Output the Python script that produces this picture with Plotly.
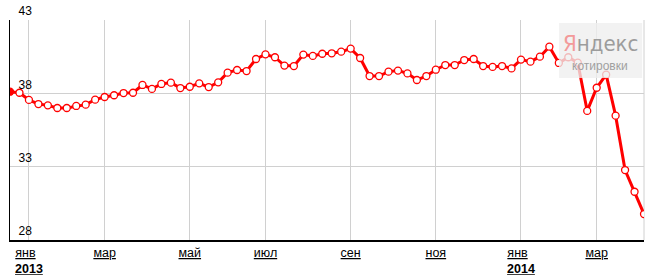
import pandas as pd
import plotly.graph_objects as go

# Weekly quotes (Mondays), Dec 2012 - Apr 2014
start_date = "2012-12-24"
values = [38.11, 38.04, 37.55, 37.27, 37.18, 37.00, 37.00, 37.14, 37.23, 37.57,
          37.75, 37.87, 38.02, 38.04, 38.57, 38.30, 38.64, 38.73, 38.36, 38.45,
          38.68, 38.43, 38.75, 39.41, 39.59, 39.52, 40.34, 40.66, 40.46, 39.89,
          39.86, 40.64, 40.55, 40.70, 40.73, 40.84, 41.05, 40.41, 39.18, 39.18,
          39.48, 39.55, 39.36, 38.91, 39.18, 39.61, 39.93, 39.93, 40.27, 40.34,
          39.86, 39.80, 39.86, 39.70, 40.30, 40.16, 40.50, 41.18, 40.07, 40.46,
          40.09, 36.80, 38.38, 39.27, 36.48, 32.77, 31.29, 29.77]
dates = pd.date_range(start_date, periods=len(values), freq="7D")

tick_dates = ["2013-01-07", "2013-03-04", "2013-05-06", "2013-07-01",
              "2013-09-02", "2013-11-04", "2014-01-06", "2014-03-03"]
tick_months = ["янв", "мар", "май", "июл", "сен", "ноя", "янв", "мар"]
tick_years = ["2013", "", "", "", "", "", "2014", ""]
y_ticks = [28, 33, 38, 43]

U = '<span style="text-decoration:underline">{}</span>'
ticktext = []
for m, yr in zip(tick_months, tick_years):
    if yr:
        t = U.format(m) + "\u00a0\u00a0<br>" + U.format("<b>" + yr + "</b>")
    else:
        t = U.format(m)
    ticktext.append(t)

marker_fill = ["#ff0000"] + ["#ffffff"] * (len(values) - 1)

fig = go.Figure()
fig.add_trace(go.Scatter(
    x=dates, y=values, mode="lines+markers",
    line=dict(color="#ff0000", width=3),
    marker=dict(symbol="circle", size=7, color=marker_fill,
                line=dict(color="#ff0000", width=1.3)),
    hoverinfo="skip", showlegend=False,
))

FONT = "Liberation Sans, Arial, sans-serif"

# right border
fig.add_shape(type="line", xref="paper", yref="paper", x0=1, x1=1, y0=0, y1=1,
              line=dict(color="#d0d0d0", width=1), layer="below")

# Yandex watermark
fig.add_shape(type="rect", xref="paper", yref="paper",
              x0=0.866, x1=0.997, y0=0.736, y1=0.986,
              fillcolor="rgba(238,238,238,0.78)", line=dict(width=0), layer="above")
fig.add_annotation(xref="paper", yref="paper", x=0.931, y=0.895,
                   text='<span style="font-stretch:condensed"><span style="color:#f39a9a">Я</span>ндекс</span>',
                   showarrow=False, xanchor="center", yanchor="middle",
                   font=dict(family="DejaVu Sans Condensed, DejaVu Sans, sans-serif",
                             size=22, color="#9c9c9c"))
fig.add_annotation(xref="paper", yref="paper", x=0.931, y=0.79,
                   text="котировки", showarrow=False, xanchor="center", yanchor="middle",
                   font=dict(family=FONT, size=12, color="#a0a0a0"))

fig.update_layout(
    width=659, height=275,
    margin=dict(l=10, r=15, t=20, b=35),
    paper_bgcolor="white", plot_bgcolor="white",
    font=dict(family=FONT, size=12, color="#000"),
    xaxis=dict(
        range=[dates[0], dates[-1]],
        tickvals=tick_dates, ticktext=ticktext,
        showgrid=True, gridcolor="#d0d0d0", gridwidth=1,
        showline=True, linecolor="#000", linewidth=2,
        ticks="", zeroline=False, automargin=False,
        tickfont=dict(family=FONT, size=12.5, color="#000"),
    ),
    yaxis=dict(
        range=[28, 43], tickvals=y_ticks,
        showgrid=True, gridcolor="#d0d0d0", gridwidth=1,
        showline=True, linecolor="#000", linewidth=1,
        ticks="", zeroline=False, automargin=False,
        ticklabelposition="inside", ticklabelshift=-9, ticklabelstandoff=8,
        ticklabeloverflow="allow",
        tickfont=dict(family=FONT, size=12, color="#000"),
    ),
)

fig.write_html("out.html")
